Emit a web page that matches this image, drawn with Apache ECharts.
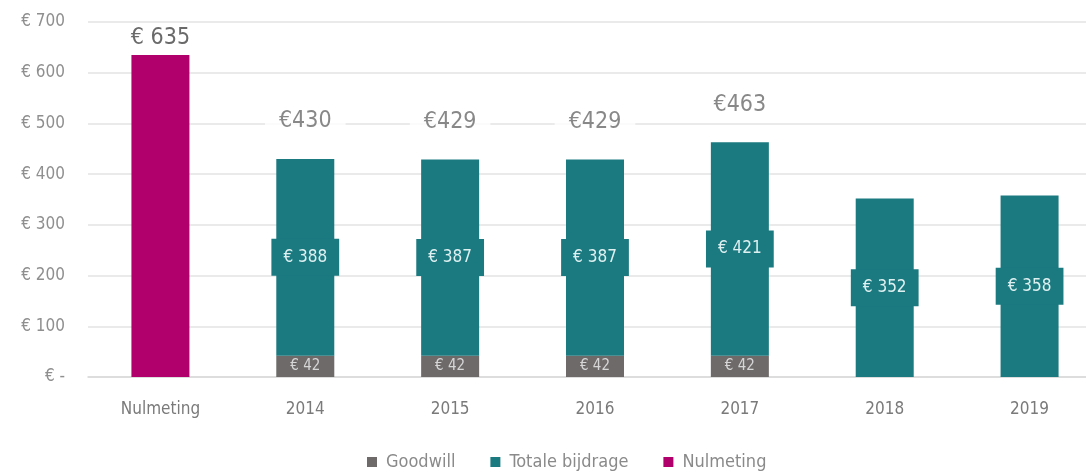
<!DOCTYPE html>
<html><head><meta charset="utf-8">
<script src="https://cdn.jsdelivr.net/npm/echarts@6/dist/echarts.min.js"></script>
<style>html,body{margin:0;padding:0;background:#fff;overflow:hidden}#c{width:1102px;height:473px}</style>
</head><body><div id="c"></div>
<script>
const categories = ['Nulmeting','2014','2015','2016','2017','2018','2019'];
const goodwill = ['-',42,42,42,42,'-','-'];
const bijdrage = ['-',388,387,387,421,352,358];
const nulmeting = [635,'-','-','-','-','-','-'];
const showTotal = [false,true,true,true,true,false,false];
const yTicks = [0,100,200,300,400,500,600,700];

const FONT = '"Liberation Sans Narrow","DejaVu Sans Condensed","Roboto",sans-serif';
const totals = categories.map((c,i)=> showTotal[i] ? (goodwill[i]+bijdrage[i]) : '-');

const chart = echarts.init(document.getElementById('c'));
chart.setOption({
  animation:false,
  textStyle:{fontFamily:FONT},
  grid:{left:88,right:0,top:22,bottom:96,containLabel:false},
  legend:{
    data:['Goodwill','Totale bijdrage','Nulmeting'],
    bottom:-3, left:362,
    itemWidth:10,itemHeight:10,itemGap:35,icon:'rect',
    textStyle:{color:'#8a8a8a',fontSize:18,fontFamily:FONT,padding:[0,0,0,4]}
  },
  xAxis:{
    type:'category',data:categories,
    axisLine:{lineStyle:{color:'#d9d9d9',width:1.5}},
    axisTick:{show:false},
    axisLabel:{color:'#7a7a7a',fontSize:17,margin:24,fontFamily:FONT}
  },
  yAxis:{
    type:'value',min:0,max:700,interval:100,
    axisLine:{show:false},axisTick:{show:false},
    splitLine:{lineStyle:{color:'#e3e3e3',width:1.5}},
    axisLabel:{color:'#8f8f8f',fontSize:17,margin:23,fontFamily:FONT,
      formatter:v=> v===0 ? '€ -' : '€ '+v}
  },
  series:[
    {name:'Goodwill',type:'bar',stack:'a',barWidth:58,data:goodwill,
     itemStyle:{color:'#6e6a6a'},
     label:{show:true,position:'inside',formatter:p=>'€ '+p.value,color:'#d6d6d6',fontSize:15,fontFamily:FONT}},
    {name:'Totale bijdrage',type:'bar',stack:'a',barWidth:58,data:bijdrage,
     itemStyle:{color:'#1b7a80'},
     label:{show:true,position:'inside',formatter:p=>'€ '+p.value,color:'#dff0f1',fontSize:17,fontFamily:FONT,
       backgroundColor:'#1b7a80',padding:[10,12],borderRadius:0}},
    {name:'Nulmeting',type:'bar',stack:'a',barWidth:58,data:nulmeting,
     itemStyle:{color:'#b1006b'},
     label:{show:true,position:'top',distance:5,formatter:p=>'€ '+p.value,color:'#6a6a6a',fontSize:23,fontFamily:FONT}},
    {name:'Totaal',type:'scatter',data:totals,symbolSize:0,silent:true,
     label:{show:true,position:'top',distance:0,offset:[0,-24],formatter:p=>'€'+p.value,color:'#6a6a6a',fontSize:23,fontFamily:FONT,
       backgroundColor:'#ffffff',padding:[2,14]}}
  ]
});
</script></body></html>
